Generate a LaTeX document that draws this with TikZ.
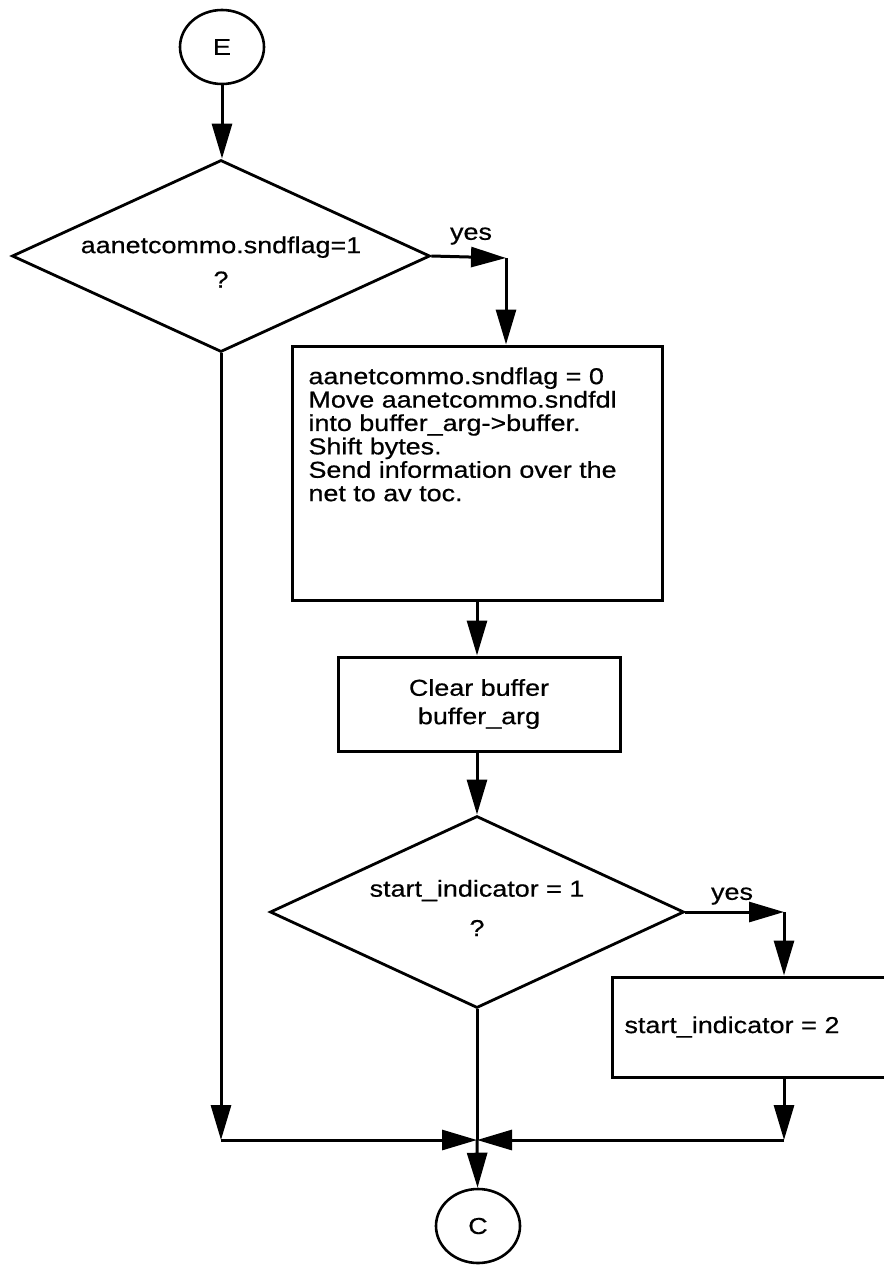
\documentclass[tikz,border=0pt]{standalone}
\usepackage{fontspec}
\setmainfont{Liberation Sans}[FakeStretch=1.17,FakeBold=0.6]
\usetikzlibrary{shapes.geometric,arrows.meta}
\begin{document}
\begin{tikzpicture}[x=1pt,y=-1pt,
  line width=3pt,
  every node/.style={font=\fontsize{23}{23.4}\selectfont, inner sep=0pt},
  arr/.style={-{Triangle[length=35pt,width=20pt]}},
  term/.style={ellipse, draw, line width=2.6pt, minimum width=84pt, minimum height=74pt},
  decide/.style={diamond, draw, line width=2.8pt},
  proc/.style={rectangle, draw, line width=3pt},
  lbl/.style={align=center}
]
\useasboundingbox (0,0) rectangle (883,1265);

% terminals
\node[term] (E) at (222,47) {E};
\node[term] (C) at (478,1226) {C};

% first decision
\node[decide, minimum width=418pt, minimum height=192pt] (D1) at (221,256) {};
\node[lbl] (D1t) at ([yshift=-6pt]D1.center) {aanetcommo.sndflag=1\\[11pt]?};

% process box 1
\node[proc, minimum width=370pt, minimum height=254pt] (B1) at (477,473) {};
\node[align=left, anchor=north west] (B1t) at (307,366)
  {aanetcommo.sndflag = 0\\Move aanetcommo.sndfdl\\into buffer\_arg->buffer.\\Shift bytes.\\Send information over the\\net to av toc.};

% process box 2
\node[proc, minimum width=282pt, minimum height=94pt, align=center] (B2) at (479,704)
  {Clear buffer\\[5pt]buffer\_arg};

% second decision
\node[decide, minimum width=414pt, minimum height=192pt] (D2) at (477,912) {};
\node[lbl] (D2t) at ([yshift=4pt]D2.center) {start\_indicator = 1\\[16pt]?};

% process box 3 (runs off the right edge)
\node[proc, anchor=west, minimum height=100pt, text width=276pt, inner xsep=12pt, align=left] (B3) at (611,1027)
  {start\_indicator = 2};

% corner coordinates
\coordinate (Y1) at (506,258);
\coordinate (Y2) at (784,912);
\coordinate (L) at (221,1140);
\coordinate (R) at (784,1140);
\coordinate (J) at (477,1140);

% labels
\node (yes1) at (471,236) {yes};
\node (yes2) at (732,896) {yes};

% connectors
\draw[arr] (E) -- (E |- D1.north);
\draw[arr] (D1.east) -- (Y1);
\draw[arr] (Y1) -- (Y1 |- B1.north);
\draw[arr] (B1.south) -- (B1.south |- B2.north);
\draw[arr] (B2.south -| D2.north) -- (D2.north);
\draw[arr] (D2.east) -- (Y2);
\draw[arr] (Y2) -- (Y2 |- B3.north);
\draw[arr] (Y2 |- B3.south) -- (R);
\draw[arr] (R) -- (J);
\draw[arr] (D1.south) -- (L);
\draw[arr] (L) -- (J);
\draw (D2.south) -- (J);
\draw[arr] (J) -- (C);
\end{tikzpicture}
\end{document}
